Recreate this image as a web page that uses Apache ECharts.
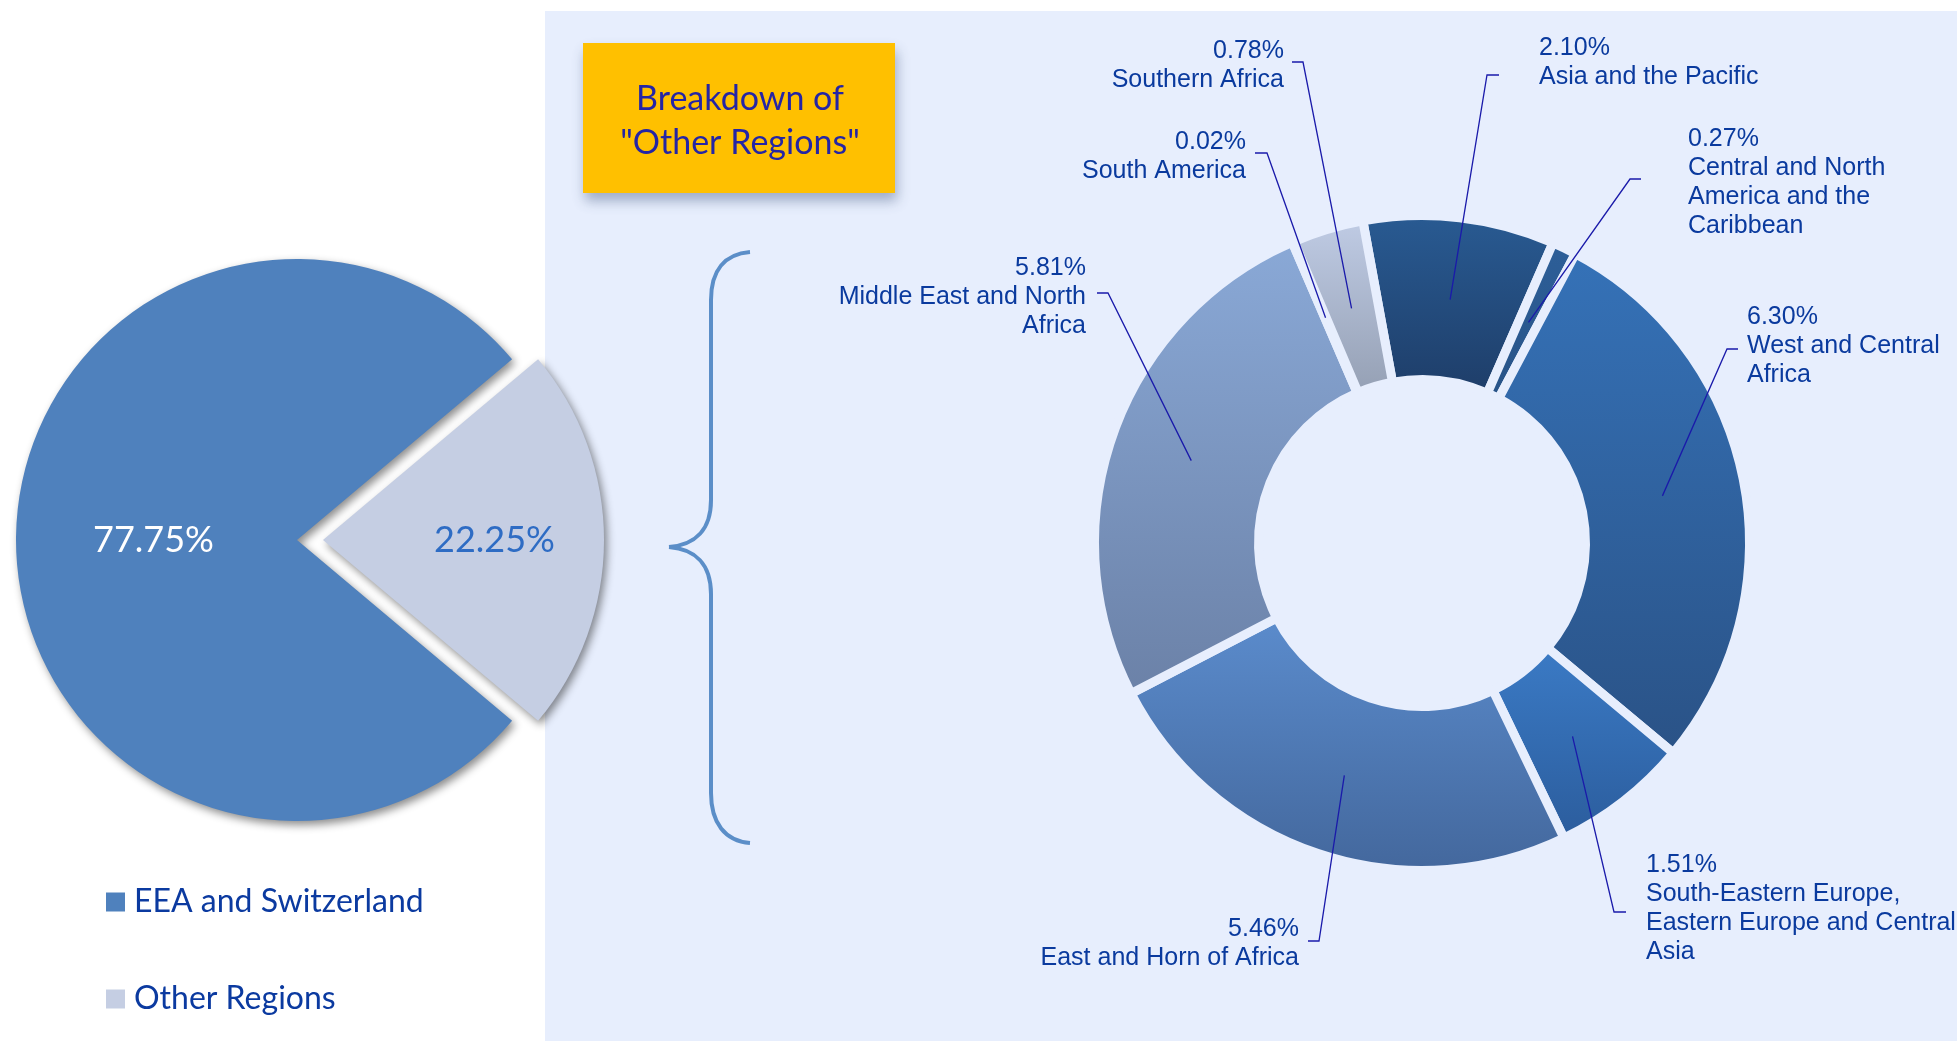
<!DOCTYPE html>
<html><head><meta charset="utf-8">
<script src="https://cdn.jsdelivr.net/npm/echarts@6/dist/echarts.min.js"></script>
<style>html,body{margin:0;padding:0;background:#ffffff}#c{width:1957px;height:1041px}</style>
</head><body><div id="c"></div>
<script>
// ---------- data ----------
const mainCategories = ['EEA and Switzerland', 'Other Regions'];
const mainValues = [77.75, 22.25];

const regionCategories = [
  'Asia and the Pacific',
  'Central and North America and the Caribbean',
  'West and Central Africa',
  'South-Eastern Europe, Eastern Europe and Central Asia',
  'East and Horn of Africa',
  'Middle East and North Africa',
  'South America',
  'Southern Africa'
];
const regionValues = [2.10, 0.27, 6.30, 1.51, 5.46, 5.81, 0.02, 0.78];
const regionLabelText = [
  'Asia and the Pacific',
  'Central and North\nAmerica and the\nCaribbean',
  'West and Central\nAfrica',
  'South-Eastern Europe,\nEastern Europe and Central\nAsia',
  'East and Horn of Africa',
  'Middle East and North\nAfrica',
  'South America',
  'Southern Africa'
];

// ---------- styles / layout ----------
const PANEL = '#E7EEFD';
const mainColors = ['#4F81BD', '#C5CEE3'];
const sliceGradients = [
  ['#295b93', '#1e3d68'],
  ['#2d5f99', '#285387'],
  ['#3572b8', '#2a5286'],
  ['#3b7bc6', '#2b5c9c'],
  ['#5b8ccd', '#43679c'],
  ['#8aa9d7', '#6b81a7'],
  ['#c0cce5', '#c0cce5'],
  ['#c0cce5', '#949fb3']
];
const GAP = 9;
const DONUT = { cx: 1422, cy: 543, r0: 168 - GAP / 2, r: 323 + GAP / 2, start: 100.4 };
const RMID = 245;
const TEXT_DY = 2.5;
const donutLabelPlacement = [
  { text: [1539, 31], align: 'left', bend: [1487, 75], end: [1499, 75] },
  { text: [1688, 122], align: 'left', bend: [1630, 179], end: [1641, 179] },
  { text: [1747, 300], align: 'left', bend: [1727, 349], end: [1738, 349] },
  { text: [1646, 848], align: 'left', bend: [1614, 912], end: [1626, 912] },
  { text: [1299, 912], align: 'right', bend: [1319, 941], end: [1308, 941] },
  { text: [1086, 251], align: 'right', bend: [1108, 293], end: [1097, 293] },
  { text: [1246, 125], align: 'right', bend: [1267, 153], end: [1255, 153] },
  { text: [1284, 34], align: 'right', bend: [1303, 62], end: [1292, 62] }
];

const regionTotal = regionValues.reduce((a, b) => a + b, 0);
const midAngles = [];
(function () {
  let cum = 0;
  regionValues.forEach(v => {
    const deg = DONUT.start - (cum + v / 2) / regionTotal * 360;
    midAngles.push(deg * Math.PI / 180);
    cum += v;
  });
})();

const mainTotal = mainValues[0] + mainValues[1];
const otherDeg = mainValues[1] / mainTotal * 360;
const mainStart = otherDeg / 2 + mainValues[0] / mainTotal * 360;

const braceStyle = { stroke: '#5b8ec8', lineWidth: 4, fill: null };
function bez(x1, y1, c1x, c1y, c2x, c2y, x2, y2) {
  return { type: 'bezierCurve', z: 5, silent: true,
    shape: { x1: x1, y1: y1, cpx1: c1x, cpy1: c1y, cpx2: c2x, cpy2: c2y, x2: x2, y2: y2 }, style: braceStyle };
}
function seg(x1, y1, x2, y2) {
  return { type: 'line', z: 5, silent: true, shape: { x1: x1, y1: y1, x2: x2, y2: y2 }, style: braceStyle };
}

const chart = echarts.init(document.getElementById('c'), null, { renderer: 'canvas' });

const donutBase = {
  type: 'pie',
  center: [DONUT.cx, DONUT.cy],
  radius: [DONUT.r0, DONUT.r],
  startAngle: DONUT.start,
  clockwise: true,
  silent: true,
  avoidLabelOverlap: false,
  emphasis: { disabled: true }
};

const option = {
  animation: false,
  backgroundColor: '#ffffff',
  legend: {
    data: mainCategories,
    orient: 'vertical',
    left: 106,
    top: 884,
    padding: 0,
    itemWidth: 19,
    itemHeight: 19,
    itemGap: 61,
    icon: 'rect',
    selectedMode: false,
    textStyle: { fontFamily: 'Lato', fontSize: 32, color: '#0b3aa0', lineHeight: 36, padding: [0, 0, 0, 4] }
  },
  graphic: [
    { type: 'rect', z: -10, silent: true, shape: { x: 545, y: 11, width: 1957 - 545, height: 1041 - 11 }, style: { fill: PANEL } },
    { type: 'rect', z: 5, silent: true, shape: { x: 583, y: 43, width: 312, height: 150 },
      style: { fill: '#FFC000', shadowBlur: 12, shadowOffsetX: 2, shadowOffsetY: 8, shadowColor: 'rgba(70,90,130,0.45)' } },
    { type: 'text', z: 6, silent: true,
      style: { text: 'Breakdown of\n"Other Regions"', x: 740, y: 121, align: 'center', textAlign: 'center',
        verticalAlign: 'middle', textVerticalAlign: 'middle', fontFamily: 'Lato', fontSize: 34, lineHeight: 44, fill: '#2525a5' } },
    bez(750, 252, 725, 254, 711, 270, 711, 300),
    seg(711, 300, 711, 500),
    bez(711, 500, 711, 530, 695, 545, 669, 547),
    bez(669, 547, 695, 549, 711, 564, 711, 594),
    seg(711, 594, 711, 793),
    bez(711, 793, 711, 823, 725, 841, 750, 843)
  ],
  series: [
    {
      type: 'pie',
      center: [297, 540],
      radius: 281,
      startAngle: mainStart,
      clockwise: true,
      selectedMode: 'single',
      selectedOffset: 26,
      silent: true,
      emphasis: { disabled: true },
      itemStyle: { shadowBlur: 8, shadowOffsetX: 3, shadowOffsetY: 4, shadowColor: 'rgba(0,0,0,0.45)' },
      label: {
        show: true, position: 'inside', fontFamily: 'Lato', fontSize: 36,
        formatter: p => p.value.toFixed(2) + '%'
      },
      labelLine: { show: false },
      data: mainCategories.map((n, i) => ({
        name: n, value: mainValues[i], selected: i === 1,
        itemStyle: { color: mainColors[i] },
        label: i === 0 ? { color: '#ffffff' } : { color: '#2e6cc4', padding: [0, 0, 0, 56] }
      }))
    },
    Object.assign({}, donutBase, {
      z: 2,
      itemStyle: { borderColor: PANEL, borderWidth: GAP },
      label: { show: false },
      labelLine: { show: false },
      data: regionCategories.map((n, i) => ({
        name: n, value: regionValues[i],
        itemStyle: {
          color: { type: 'linear', x: 0, y: 0, x2: 0, y2: 1,
            colorStops: [{ offset: 0, color: sliceGradients[i][0] }, { offset: 1, color: sliceGradients[i][1] }] }
        }
      }))
    }),
    Object.assign({}, donutBase, {
      z: 4,
      itemStyle: { color: 'rgba(0,0,0,0)', borderWidth: 0 },
      label: {
        show: true, position: 'outside', fontFamily: 'Liberation Sans', fontSize: 25, lineHeight: 29,
        color: '#0a3a9e',
        formatter: p => p.value.toFixed(2) + '%\n' + regionLabelText[p.dataIndex]
      },
      labelLine: { show: true, length: 10, length2: 10, lineStyle: { color: '#1a1aaa', width: 1.3 } },
      labelLayout: function (p) {
        const cfg = donutLabelPlacement[p.dataIndex];
        const a = midAngles[p.dataIndex];
        const sx = DONUT.cx + RMID * Math.cos(a);
        const sy = DONUT.cy - RMID * Math.sin(a);
        return {
          x: cfg.text[0], y: cfg.text[1] + TEXT_DY, align: cfg.align, verticalAlign: 'top',
          labelLinePoints: [[sx, sy], cfg.bend, cfg.end]
        };
      },
      data: regionCategories.map((n, i) => ({ name: n, value: regionValues[i] }))
    })
  ]
};
chart.setOption(option);
</script>
</body></html>
